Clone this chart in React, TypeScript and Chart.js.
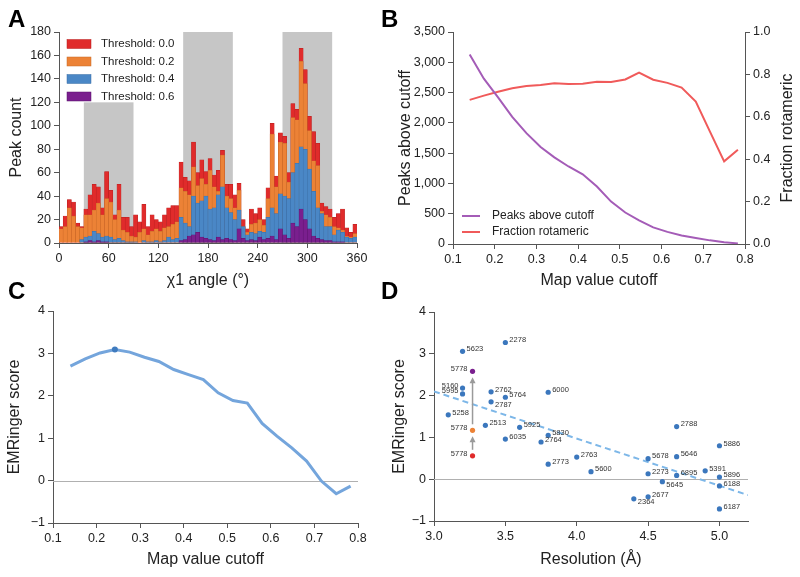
import React, { useEffect, useRef } from 'react';
import { Chart, registerables } from 'chart.js';
Chart.register(...registerables);

const FONT = '"Liberation Sans", Arial, Helvetica, sans-serif';
const TEXT = '#222';
const AXIS = '#555';
const TICK_SIZE = 12.5;
Chart.defaults.font.family = FONT;

// ---------------- Panel A: chi1 histogram ----------------
const angleBinStart = [0,5,10,15,20,25,30,35,40,45,50,55,60,65,70,75,80,85,90,95,100,105,110,115,120,125,130,135,140,145,150,155,160,165,170,175,180,185,190,195,200,205,210,215,220,225,230,235,240,245,250,255,260,265,270,275,280,285,290,295,300,305,310,315,320,325,330,335,340,345,350,355];
const binWidth = 5;
const thresholdLabels = ['Threshold: 0.0', 'Threshold: 0.2', 'Threshold: 0.4', 'Threshold: 0.6'];
const peaksT00 = [14,23,37,35,17,14,29,41,50,48,30,61,45,24,50,22,22,14,24,18,33,14,24,20,18,24,30,32,32,69,56,53,86,60,71,61,72,58,62,79,50,50,41,51,20,12,29,25,30,20,47,102,57,94,91,60,119,114,166,148,108,95,85,34,31,29,22,25,29,13,9,16];
const peaksT02 = [12,14,30,23,14,13,24,24,28,34,24,38,35,20,28,11,9,6,5,9,12,7,10,12,10,13,14,16,18,47,44,41,65,49,55,50,62,48,44,75,40,38,30,45,14,9,16,17,20,15,38,93,48,86,85,52,107,105,155,136,96,70,66,27,24,22,14,13,11,6,5,8];
const peaksT04 = [0,0,0,0,0,3,5,6,10,8,5,6,5,3,4,2,1,1,1,0,2,1,1,2,1,2,5,3,4,22,17,14,40,34,36,40,29,30,41,48,30,26,20,28,14,7,9,8,10,9,22,30,25,42,40,38,60,68,82,80,63,44,30,25,14,14,7,11,9,5,4,5];
const peaksT06 = [0,0,0,0,0,0,1,2,1,2,1,1,0,0,0,0,0,0,0,0,0,0,0,0,0,0,0,0,0,2,3,6,7,9,5,4,3,2,5,3,4,3,2,12,4,2,3,2,5,3,4,6,3,12,7,4,17,14,29,20,12,6,4,3,2,2,1,1,1,0,0,0];
// rotamer windows
const rotamerWindowStart = [30, 150, 270];
const rotamerWindowEnd = [90, 210, 330];
const rotamerWindowHeight = [120, 180, 180];

// ---------------- Panels B and C ----------------
const cutoffs = [0.14, 0.174, 0.208, 0.242, 0.276, 0.31, 0.343, 0.377, 0.411, 0.445, 0.479, 0.513, 0.546, 0.58, 0.614, 0.648, 0.682, 0.716, 0.75, 0.783];
const peaksAboveCutoff = [3130, 2730, 2420, 2100, 1830, 1600, 1430, 1280, 1150, 950, 700, 520, 390, 275, 200, 140, 100, 60, 30, 10];
const fractionRotameric = [0.68, 0.70, 0.718, 0.735, 0.745, 0.75, 0.758, 0.755, 0.756, 0.765, 0.764, 0.776, 0.808, 0.775, 0.76, 0.738, 0.672, 0.53, 0.39, 0.445];
const emringerByCutoff = [2.70, 2.87, 3.01, 3.09, 3.03, 2.91, 2.81, 2.62, 2.50, 2.38, 2.07, 1.89, 1.83, 1.35, 1.05, 0.77, 0.46, -0.01, -0.31, -0.13];

// ---------------- Panel D ----------------
const emdbIds = ['5623','2278','5160','5995','2762','5764','6000','2787','5258','2513','5925','6035','5830','2764','2763','2773','5600','2788','5886','5678','5646','2273','5391','6895','5896','5645','6188','2677','2364','6187'];
const resolution = [3.2,3.5,3.2,3.2,3.4,3.5,3.8,3.4,3.1,3.36,3.6,3.5,3.8,3.75,4.0,3.8,4.1,4.7,5.0,4.5,4.7,4.5,4.9,4.7,5.0,4.6,5.0,4.5,4.4,5.0];
const emringerScore = [3.06,3.27,2.18,2.04,2.09,1.96,2.08,1.85,1.54,1.29,1.24,0.96,1.05,0.89,0.53,0.36,0.18,1.26,0.80,0.49,0.54,0.13,0.20,0.09,0.05,-0.06,-0.16,-0.42,-0.47,-0.71];
const labelSide = ['r','r','l','l','r','r','r','rb','r','r','r','r','r','r','r','r','r','r','r','r','r','r','r','r','r','rb','r','r','rb','r'];
const id5778 = '5778';
const resolution5778 = 3.27;
const score5778 = [0.56, 1.17, 2.58]; // thresholds 0.0, 0.2, 0.6
const trendX = [3.0, 5.2];
const trendY = [2.10, -0.38];

const barColors = ['#e02b2b', '#ec8236', '#4a87c6', '#7a1f8e'];
const barEdges = ['#b71f1f', '#c76a27', '#3a6ea6', '#5a136b'];
const color5778 = ['#e02b2b', '#ec8236', '#7a1f8e'];

const minusFmt = (v: number) => (v < 0 ? '\u2212' + Math.abs(v) : String(v));

function linAxis(o: any) {
  return {
    type: 'linear',
    position: o.position,
    min: o.min,
    max: o.max,
    offset: false,
    ticks: {
      stepSize: o.step,
      includeBounds: false,
      color: TEXT,
      font: { family: FONT, size: TICK_SIZE },
      padding: 3,
      maxRotation: 0,
      autoSkip: false,
      callback: (v: any) => (o.fmt ? o.fmt(Number(v)) : String(v)),
    },
    grid: { display: true, offset: false, drawOnChartArea: false, drawTicks: true, tickLength: 5, color: AXIS, lineWidth: 1 },
    border: { display: true, color: AXIS, width: 1 },
    title: o.title
      ? { display: true, text: o.title, color: TEXT, font: { family: FONT, size: 16 }, padding: o.titlePad }
      : { display: false },
    afterFit: (s: any) => {
      if (o.horizontal) s.height = o.size;
      else s.width = o.size;
    },
  };
}

const zeroLinePlugin = {
  id: 'zeroLine',
  beforeDatasetsDraw(chart: any) {
    const { ctx, chartArea, scales } = chart;
    const y0 = scales.y.getPixelForValue(0);
    ctx.save();
    ctx.strokeStyle = '#b0b0b0';
    ctx.lineWidth = 1;
    ctx.beginPath();
    ctx.moveTo(chartArea.left, Math.round(y0) + 0.5);
    ctx.lineTo(chartArea.right, Math.round(y0) + 0.5);
    ctx.stroke();
    ctx.restore();
  },
};

function configA(): any {
  const series = [peaksT00, peaksT02, peaksT04, peaksT06];
  return {
    type: 'bar',
    data: {
      datasets: series.map((s, i) => ({
        label: thresholdLabels[i],
        data: angleBinStart.map((a, j) => ({ x: a + binWidth / 2, y: s[j] })),
        backgroundColor: barColors[i],
        borderColor: barEdges[i],
        borderWidth: 0.5,
        grouped: false,
        order: series.length - i,
        barPercentage: 1,
        categoryPercentage: 1,
      })),
    },
    options: {
      responsive: false,
      animation: false,
      events: [],
      layout: { padding: { left: 0, top: 32, right: 43, bottom: 0 } },
      plugins: { legend: { display: false }, tooltip: { enabled: false } },
      scales: {
        x: linAxis({ min: 0, max: 360, step: 60, title: 'χ1 angle (°)', size: 54, horizontal: true, position: 'bottom', titlePad: { top: 0, bottom: 6.4 } }),
        y: linAxis({ min: 0, max: 180, step: 20, title: 'Peak count', size: 59, horizontal: false, position: 'left', titlePad: { top: 7.4, bottom: 0 } }),
      },
    },
    plugins: [
      {
        id: 'shade',
        beforeDatasetsDraw(chart: any) {
          const { ctx, scales } = chart;
          ctx.save();
          ctx.fillStyle = '#c6c6c6';
          rotamerWindowStart.forEach((a, i) => {
            const x0 = scales.x.getPixelForValue(a);
            const x1 = scales.x.getPixelForValue(rotamerWindowEnd[i]);
            const y0 = scales.y.getPixelForValue(rotamerWindowHeight[i]);
            const y1 = scales.y.getPixelForValue(0);
            ctx.fillRect(x0, y0, x1 - x0, y1 - y0);
          });
          ctx.restore();
        },
      },
      {
        id: 'legendA',
        afterDraw(chart: any) {
          const { ctx, chartArea } = chart;
          ctx.save();
          ctx.font = `11.5px ${FONT}`;
          ctx.textBaseline = 'middle';
          thresholdLabels.forEach((t, i) => {
            const cy = chartArea.top + 12 + i * 17.5;
            ctx.fillStyle = barColors[i];
            ctx.fillRect(chartArea.left + 8, cy - 4.5, 24, 9);
            ctx.strokeStyle = barEdges[i];
            ctx.lineWidth = 0.5;
            ctx.strokeRect(chartArea.left + 8, cy - 4.5, 24, 9);
            ctx.fillStyle = TEXT;
            ctx.fillText(t, chartArea.left + 42, cy);
          });
          ctx.restore();
        },
      },
    ],
  };
}

function configB(): any {
  const lineColors = ['#a45cb7', '#f05a5a'];
  const names = ['Peaks above cutoff', 'Fraction rotameric'];
  return {
    type: 'line',
    data: {
      datasets: [
        { label: names[0], data: cutoffs.map((c, i) => ({ x: c, y: peaksAboveCutoff[i] })), yAxisID: 'y', borderColor: lineColors[0], borderWidth: 2, pointRadius: 0, tension: 0 },
        { label: names[1], data: cutoffs.map((c, i) => ({ x: c, y: fractionRotameric[i] })), yAxisID: 'y1', borderColor: lineColors[1], borderWidth: 2, pointRadius: 0, tension: 0 },
      ],
    },
    options: {
      responsive: false,
      animation: false,
      events: [],
      layout: { padding: { left: 0, top: 32, right: 0, bottom: 0 } },
      plugins: { legend: { display: false }, tooltip: { enabled: false } },
      scales: {
        x: linAxis({ min: 0.1, max: 0.8, step: 0.1, fmt: (v: number) => v.toFixed(1), title: 'Map value cutoff', size: 53, horizontal: true, position: 'bottom', titlePad: { top: 0, bottom: 6.4 } }),
        y: linAxis({ min: 0, max: 3500, step: 500, fmt: (v: number) => v.toLocaleString('en-US'), title: 'Peaks above cutoff', size: 65, horizontal: false, position: 'left', titlePad: { top: 8.4, bottom: 0 } }),
        y1: linAxis({ min: 0, max: 1, step: 0.2, fmt: (v: number) => v.toFixed(1), size: 55, horizontal: false, position: 'right' }),
      },
    },
    plugins: [
      {
        id: 'legendB',
        afterDraw(chart: any) {
          const { ctx, chartArea, width } = chart;
          ctx.save();
          ctx.font = `12px ${FONT}`;
          ctx.textBaseline = 'middle';
          names.forEach((n, i) => {
            const cy = chartArea.bottom - 28 + i * 16;
            ctx.strokeStyle = lineColors[i];
            ctx.lineWidth = 2;
            ctx.beginPath();
            ctx.moveTo(chartArea.left + 9, cy);
            ctx.lineTo(chartArea.left + 27, cy);
            ctx.stroke();
            ctx.fillStyle = TEXT;
            ctx.fillText(n, chartArea.left + 39, cy);
          });
          // right-hand axis title, rotated like the left one
          ctx.font = `16px ${FONT}`;
          ctx.textAlign = 'center';
          ctx.translate(width - 12, (chartArea.top + chartArea.bottom) / 2);
          ctx.rotate(-Math.PI / 2);
          ctx.fillText('Fraction rotameric', 0, 0);
          ctx.restore();
        },
      },
    ],
  };
}

function configC(): any {
  let best = 0;
  emringerByCutoff.forEach((v, i) => { if (v > emringerByCutoff[best]) best = i; });
  return {
    type: 'line',
    data: {
      datasets: [
        {
          label: 'EMRinger score',
          data: cutoffs.map((c, i) => ({ x: c, y: emringerByCutoff[i] })),
          borderColor: '#74a5dc',
          borderWidth: 3,
          tension: 0,
          pointRadius: (ctx: any) => (ctx.dataIndex === best ? 3 : 0),
          pointBackgroundColor: '#3f7bbf',
          pointBorderWidth: 0,
        },
      ],
    },
    options: {
      responsive: false,
      animation: false,
      events: [],
      layout: { padding: { left: 0, top: 31, right: 42, bottom: 0 } },
      plugins: { legend: { display: false }, tooltip: { enabled: false } },
      scales: {
        x: linAxis({ min: 0.1, max: 0.8, step: 0.1, fmt: (v: number) => v.toFixed(1), title: 'Map value cutoff', size: 54, horizontal: true, position: 'bottom', titlePad: { top: 0, bottom: 7.4 } }),
        y: linAxis({ min: -1, max: 4, step: 1, fmt: minusFmt, title: 'EMRinger score', size: 53, horizontal: false, position: 'left', titlePad: { top: 5.4, bottom: 0 } }),
      },
    },
    plugins: [zeroLinePlugin],
  };
}

function configD(): any {
  return {
    type: 'scatter',
    data: {
      datasets: [
        {
          label: 'EMDB maps',
          data: resolution.map((r, i) => ({ x: r, y: emringerScore[i] })),
          backgroundColor: '#3b77bd',
          borderWidth: 0,
          pointRadius: 2.6,
          order: 1,
        },
        {
          label: 'EMD-5778 at thresholds',
          data: score5778.map((s) => ({ x: resolution5778, y: s })),
          backgroundColor: color5778,
          borderWidth: 0,
          pointRadius: 2.6,
          order: 0,
        },
        {
          type: 'line',
          label: 'Trend',
          data: trendX.map((x, i) => ({ x, y: trendY[i] })),
          borderColor: '#7db7e8',
          borderWidth: 2,
          borderDash: [6, 4],
          pointRadius: 0,
          order: 2,
        },
      ],
    },
    options: {
      responsive: false,
      animation: false,
      events: [],
      layout: { padding: { left: 0, top: 32, right: 52, bottom: 0 } },
      plugins: { legend: { display: false }, tooltip: { enabled: false } },
      scales: {
        x: linAxis({ min: 3.0, max: 5.2, step: 0.5, fmt: (v: number) => v.toFixed(1), title: 'Resolution (Å)', size: 56, horizontal: true, position: 'bottom', titlePad: { top: 0, bottom: 7.4 } }),
        y: linAxis({ min: -1, max: 4, step: 1, fmt: minusFmt, title: 'EMRinger score', size: 46, horizontal: false, position: 'left', titlePad: { top: 2.4, bottom: 0 } }),
      },
    },
    plugins: [
      zeroLinePlugin,
      {
        id: 'arrowsAndLabels',
        afterDatasetsDraw(chart: any) {
          const { ctx } = chart;
          ctx.save();
          const pts = chart.getDatasetMeta(1).data.map((p: any) => ({ x: p.x, y: p.y })).sort((a: any, b: any) => b.y - a.y);
          ctx.strokeStyle = '#9a9a9a';
          ctx.fillStyle = '#9a9a9a';
          ctx.lineWidth = 1.5;
          for (let i = 0; i < pts.length - 1; i++) {
            const x = pts[i].x;
            const yStart = pts[i].y - 6;
            const yTip = pts[i + 1].y + 6;
            ctx.beginPath();
            ctx.moveTo(x, yStart);
            ctx.lineTo(x, yTip + 5);
            ctx.stroke();
            ctx.beginPath();
            ctx.moveTo(x, yTip);
            ctx.lineTo(x - 3, yTip + 6);
            ctx.lineTo(x + 3, yTip + 6);
            ctx.closePath();
            ctx.fill();
          }
          ctx.font = `7.5px ${FONT}`;
          ctx.fillStyle = '#333';
          ctx.textBaseline = 'middle';
          chart.getDatasetMeta(0).data.forEach((p: any, i: number) => {
            const side = labelSide[i];
            if (side === 'l') {
              ctx.textAlign = 'right';
              ctx.fillText(emdbIds[i], p.x - 4, p.y - 2.5);
            } else if (side === 'rb') {
              ctx.textAlign = 'left';
              ctx.fillText(emdbIds[i], p.x + 4, p.y + 3.5);
            } else {
              ctx.textAlign = 'left';
              ctx.fillText(emdbIds[i], p.x + 4, p.y - 2.3);
            }
          });
          chart.getDatasetMeta(1).data.forEach((p: any) => {
            ctx.textAlign = 'right';
            ctx.fillText(id5778, p.x - 5, p.y - 2);
          });
          ctx.restore();
        },
      },
    ],
  };
}

function ChartCanvas(props: { make: () => any; left: number; top: number; width: number; height: number }) {
  const ref = useRef<HTMLCanvasElement>(null);
  useEffect(() => {
    const chart = new Chart(ref.current as HTMLCanvasElement, props.make());
    return () => chart.destroy();
  }, []);
  return (
    <canvas
      ref={ref}
      width={props.width}
      height={props.height}
      style={{ position: 'absolute', left: props.left, top: props.top, width: props.width, height: props.height }}
    />
  );
}

const letterStyle: React.CSSProperties = {
  position: 'absolute',
  fontFamily: FONT,
  fontWeight: 'bold',
  fontSize: 24,
  lineHeight: '24px',
  color: '#000',
};

export default function App() {
  return (
    <div style={{ position: 'fixed', left: 0, top: 0, width: 800, height: 577, background: '#fff', overflow: 'hidden' }}>
      <ChartCanvas make={configC} left={0} top={280} width={400} height={297} />
      <ChartCanvas make={configD} left={388} top={280} width={412} height={297} />
      <ChartCanvas make={configA} left={0} top={0} width={400} height={297} />
      <ChartCanvas make={configB} left={388} top={0} width={412} height={297} />
      <div style={{ ...letterStyle, left: 8, top: 7 }}>A</div>
      <div style={{ ...letterStyle, left: 381, top: 7 }}>B</div>
      <div style={{ ...letterStyle, left: 8, top: 279 }}>C</div>
      <div style={{ ...letterStyle, left: 381, top: 279 }}>D</div>
    </div>
  );
}
